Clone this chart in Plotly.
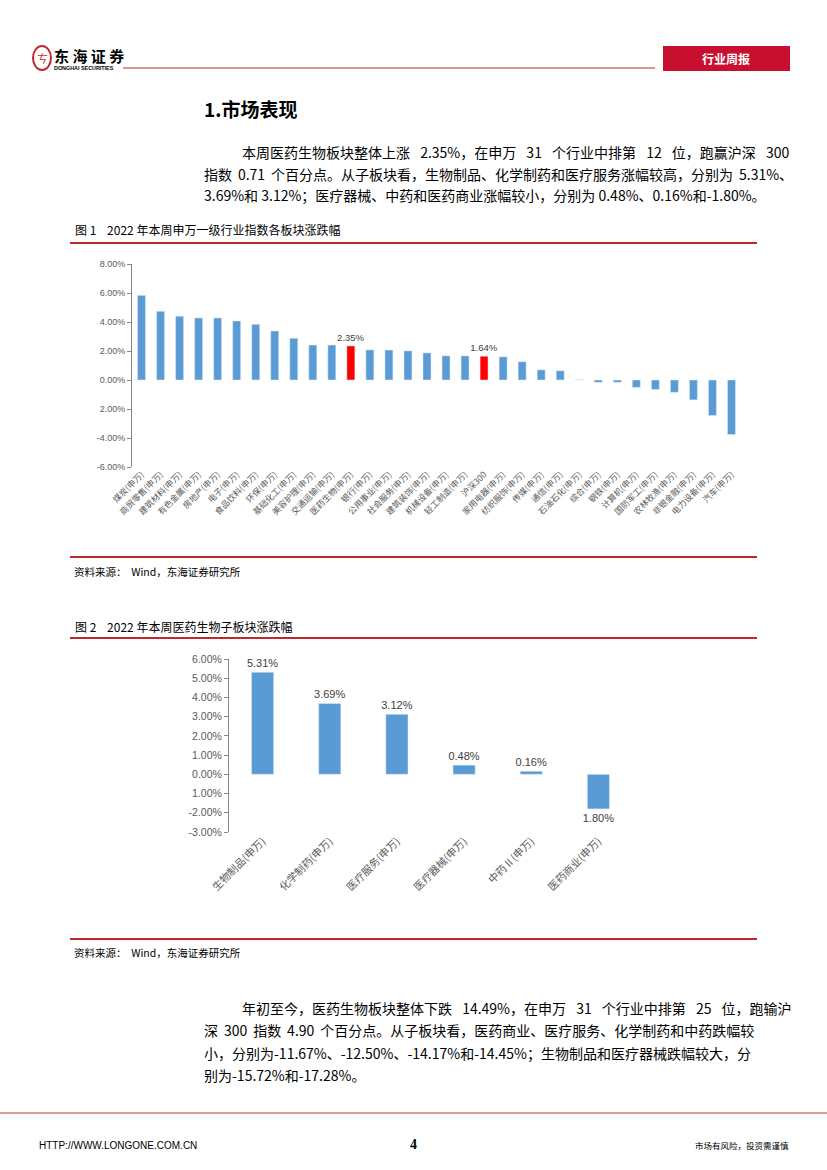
import plotly.graph_objects as go

# ---------------- data ----------------
ind_names = ["煤炭(申万)", "商贸零售(申万)", "建筑材料(申万)", "有色金属(申万)", "房地产(申万)",
             "电子(申万)", "食品饮料(申万)", "环保(申万)", "基础化工(申万)", "美容护理(申万)",
             "交通运输(申万)", "医药生物(申万)", "银行(申万)", "公用事业(申万)", "社会服务(申万)",
             "建筑装饰(申万)", "机械设备(申万)", "轻工制造(申万)", "沪深300", "家用电器(申万)",
             "纺织服饰(申万)", "传媒(申万)", "通信(申万)", "石油石化(申万)", "综合(申万)",
             "钢铁(申万)", "计算机(申万)", "国防军工(申万)", "农林牧渔(申万)", "非银金融(申万)",
             "电力设备(申万)", "汽车(申万)"]
ind_values = [5.84, 4.74, 4.40, 4.28, 4.28, 4.07, 3.84, 3.38, 2.88, 2.41, 2.41, 2.35,
              2.08, 2.07, 2.01, 1.87, 1.67, 1.66, 1.64, 1.60, 1.26, 0.70, 0.64, 0.02,
              -0.16, -0.16, -0.51, -0.65, -0.85, -1.37, -2.45, -3.76]
ind_highlight = ["医药生物(申万)", "沪深300"]

sub_names = ["生物制品(申万)", "化学制药(申万)", "医疗服务(申万)", "医疗器械(申万)", "中药Ⅱ(申万)", "医药商业(申万)"]
sub_values = [5.31, 3.69, 3.12, 0.48, 0.16, -1.80]

y1_ticks = [8, 6, 4, 2, 0, -2, -4, -6]
y1_ticktext = ["8.00%", "6.00%", "4.00%", "2.00%", "0.00%", "2.00%", "-4.00%", "-6.00%"]
y2_ticks = [6, 5, 4, 3, 2, 1, 0, -1, -2, -3]
y2_ticktext = ["6.00%", "5.00%", "4.00%", "3.00%", "2.00%", "1.00%", "0.00%", "1.00%", "-2.00%", "-3.00%"]

W, H = 827, 1170
def px(x): return x / W
def py(y): return 1 - y / H

BLUE = "#5B9BD5"
RED = "#FF0000"
DARKRED = "#C0282D"
GRAY = "#595959"
AXIS = "#868686"
CJK = "Noto Sans CJK SC"

fig = go.Figure()

# ---- chart 1 ----
colors1 = [RED if n in ind_highlight else BLUE for n in ind_names]
text1 = [f"{v:.2f}%" if n in ind_highlight else "" for n, v in zip(ind_names, ind_values)]
fig.add_trace(go.Bar(x=ind_names, y=ind_values, marker_color=colors1, text=text1,
                     textposition="outside", cliponaxis=False, constraintext="none",
                     textfont=dict(size=9.5, color="#404040", family="Arial"),
                     xaxis="x", yaxis="y", width=0.42, showlegend=False, hoverinfo="x+y"))

# ---- chart 2 ----
text2 = [f"{abs(v):.2f}%" for v in sub_values]
fig.add_trace(go.Bar(x=sub_names, y=sub_values, marker_color=BLUE, text=text2,
                     textposition="outside", cliponaxis=False, constraintext="none",
                     textfont=dict(size=11, color="#404040", family="Arial"),
                     xaxis="x3", yaxis="y3", width=0.33, showlegend=False, hoverinfo="x+y"))

n1 = len(ind_names)
n2 = len(sub_names)
tickfont_small = dict(size=9, color=GRAY, family="Arial")

fig.update_layout(
    width=W, height=H, autosize=False,
    margin=dict(l=0, r=0, t=0, b=0, autoexpand=False),
    paper_bgcolor="white", plot_bgcolor="rgba(0,0,0,0)",
    bargap=0.5,
    xaxis=dict(domain=[px(132), px(741)], anchor="y", type="category",
               categoryarray=ind_names, range=[-0.5, n1 - 0.5], automargin=False,
               tickangle=-45, tickfont=dict(size=8.5, color=GRAY, family=CJK),
               showline=False, ticks="", showgrid=False, fixedrange=True),
    xaxis2=dict(domain=[px(132), px(741)], overlaying="x", anchor="free",
                position=py(380), range=[-0.5, n1 - 0.5], automargin=False,
                tickvals=[i - 0.5 for i in range(n1 + 1)],
                showticklabels=False, showline=True, linecolor=AXIS, linewidth=1,
                ticks="outside", ticklen=3, tickcolor=AXIS, showgrid=False, zeroline=False),
    yaxis=dict(domain=[py(467), py(264)], anchor="x", range=[-6, 8], automargin=False,
               tickvals=y1_ticks, ticktext=y1_ticktext, tickfont=tickfont_small,
               showline=True, linecolor=AXIS, ticks="outside", ticklen=4, tickcolor=AXIS,
               showgrid=False, zeroline=False),
    xaxis3=dict(domain=[px(229), px(632)], anchor="y3", type="category",
                categoryarray=sub_names, range=[-0.5, n2 - 0.5], automargin=False,
                tickangle=-45, tickfont=dict(size=10.5, color=GRAY, family=CJK),
                showline=False, ticks="", showgrid=False),
    xaxis4=dict(domain=[px(229), px(632)], overlaying="x3", anchor="free",
                position=py(774), range=[-0.5, n2 - 0.5], automargin=False,
                tickvals=[i - 0.5 for i in range(n2 + 1)],
                showticklabels=False, showline=True, linecolor=AXIS, linewidth=1,
                ticks="outside", ticklen=4, tickcolor=AXIS, showgrid=False, zeroline=False),
    yaxis3=dict(domain=[py(832), py(659)], anchor="x3", range=[-3, 6], automargin=False,
                tickvals=y2_ticks, ticktext=y2_ticktext,
                tickfont=dict(size=10.5, color=GRAY, family="Arial"),
                showline=True, linecolor=AXIS, ticks="outside", ticklen=4, tickcolor=AXIS,
                showgrid=False, zeroline=False),
)

shapes = []
annos = []

def line(x0, y0, x1, y1, color, w):
    shapes.append(dict(type="line", xref="paper", yref="paper", x0=px(x0), x1=px(x1),
                       y0=py(y0), y1=py(y1), line=dict(color=color, width=w)))

def text(x, y, s, size, color="black", xanchor="left", bold=False, family=CJK):
    if bold:
        s = f"<b>{s}</b>"
    annos.append(dict(x=px(x), y=py(y), xref="paper", yref="paper", text=s, showarrow=False,
                      xanchor=xanchor, yanchor="middle", borderpad=0,
                      font=dict(size=size, color=color, family=family)))

# header
shapes.append(dict(type="circle", xref="paper", yref="paper", x0=px(33), x1=px(51),
                   y0=py(70), y1=py(46), line=dict(color=DARKRED, width=2)))
text(42, 58, "ㄘ", 11, DARKRED, xanchor="center")
text(53, 55, "东 海 证 券", 15, "black", bold=True)
text(53, 68, "DONGHAI SECURITIES", 5.4, "black", bold=True, family="Arial")
line(123, 68, 655, 68, DARKRED, 1.2)
shapes.append(dict(type="rect", xref="paper", yref="paper", x0=px(663), x1=px(790),
                   y0=py(71), y1=py(46), fillcolor="#C8102E", line=dict(width=0)))
text(726, 58, "行业周报", 12, "white", xanchor="center", bold=True)

# section title
text(203, 108, "1.市场表现", 19, "black", bold=True)

PS = 14
E = "\u2002 "   # wider gap (justified look)
T = "\u2009 "   # slightly wider gap
# paragraph 1
text(241, 152, f"本周医药生物板块整体上涨{E}2.35%，在申万{E}31{E}个行业中排第{E}12{E}位，跑赢沪深{E}300", PS)
text(203, 174, f"指数{T}0.71{T}个百分点。从子板块看，生物制品、化学制药和医疗服务涨幅较高，分别为{T}5.31%、", PS)
text(203, 195, "3.69%和 3.12%；医疗器械、中药和医药商业涨幅较小，分别为 0.48%、0.16%和-1.80%。", PS)

# figure 1 caption
text(74, 230, "图 1    2022 年本周申万一级行业指数各板块涨跌幅", 12)
line(70, 243, 757, 243, DARKRED, 2)
line(70, 557, 757, 557, DARKRED, 2)
text(73, 571, "资料来源：  Wind，东海证券研究所", 10.5)

# figure 2 caption
text(74, 626, "图 2    2022 年本周医药生物子板块涨跌幅", 12)
line(70, 638, 757, 638, DARKRED, 2)
line(70, 939, 757, 939, DARKRED, 2)
text(73, 952, "资料来源：  Wind，东海证券研究所", 10.5)

# paragraph 2
text(241, 1008, f"年初至今，医药生物板块整体下跌{E}14.49%，在申万{E}31{E}个行业中排第{E}25{E}位，跑输沪", PS)
text(203, 1030, f"深{T}300{T}指数{T}4.90{T}个百分点。从子板块看，医药商业、医疗服务、化学制药和中药跌幅较", PS)
text(203, 1053, "小，分别为-11.67%、-12.50%、-14.17%和-14.45%；生物制品和医疗器械跌幅较大，分", PS)
text(203, 1075, "别为-15.72%和-17.28%。", PS)

# footer
line(0, 1113, 827, 1113, "#B03A3A", 1)
text(38, 1145, "HTTP://WWW.LONGONE.COM.CN", 10, "black", family="Arial")
text(413, 1144, "4", 14, "black", xanchor="center", bold=True, family="Liberation Serif")
text(790, 1145, "市场有风险，投资需谨慎", 8.5, "black", xanchor="right")

fig.update_layout(shapes=shapes, annotations=annos)

fig.write_html("out.html", config={"displayModeBar": False},
               post_script="document.body.style.margin='0';")
